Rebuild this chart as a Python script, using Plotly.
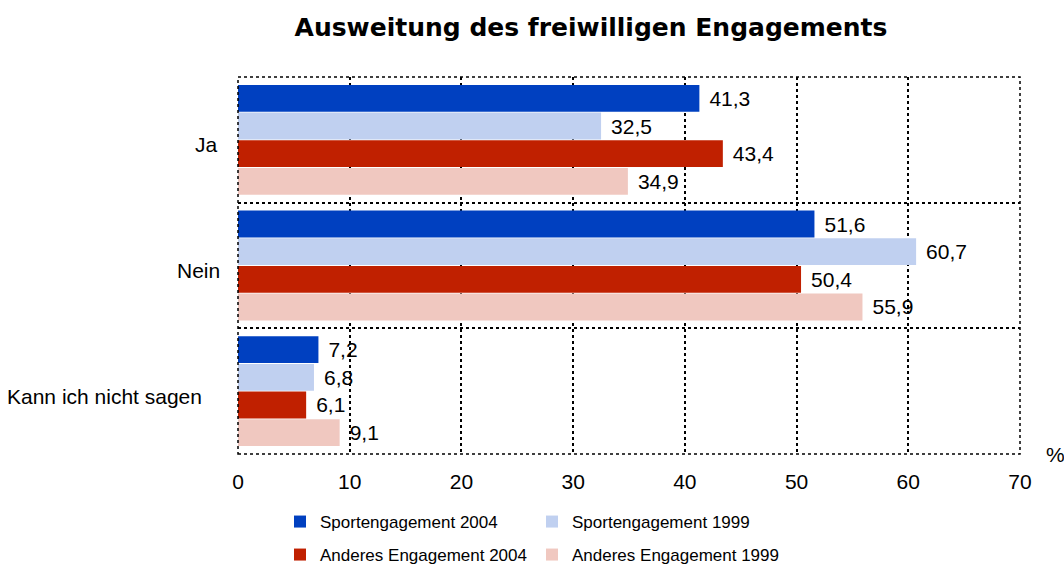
import plotly.graph_objects as go

categories = ["Ja", "Nein", "Kann ich nicht sagen"]
series_names = ["Sportengagement 2004", "Sportengagement 1999",
                "Anderes Engagement 2004", "Anderes Engagement 1999"]
sport_2004 = [41.3, 51.6, 7.2]
sport_1999 = [32.5, 60.7, 6.8]
anderes_2004 = [43.4, 50.4, 6.1]
anderes_1999 = [34.9, 55.9, 9.1]
x_ticks = [0, 10, 20, 30, 40, 50, 60, 70]

series_values = [sport_2004, sport_1999, anderes_2004, anderes_1999]
colors = ["#0040C0", "#C0D0F0", "#C02000", "#F0C8C0"]
legends = ["legend", "legend", "legend2", "legend2"]

FONT = "Liberation Sans, Arial, sans-serif"

fig = go.Figure()
for name, vals, col, lg in zip(series_names, series_values, colors, legends):
    fig.add_trace(go.Bar(
        y=categories, x=vals, name=name, orientation="h",
        marker=dict(color=col, line=dict(width=0)),
        text=["\u2004" + f"{v:.1f}".replace(".", ",") for v in vals],
        textposition="outside", constraintext="none", cliponaxis=False,
        textfont=dict(family=FONT, size=21, color="#000000"),
        legend=lg, hoverinfo="x+name",
    ))

grid = dict(showgrid=True, gridcolor="#000000", gridwidth=1.5, griddash="dot")

fig.update_layout(
    width=1064, height=568,
    margin=dict(l=238, r=44, t=77, b=114, autoexpand=False),
    paper_bgcolor="white", plot_bgcolor="white",
    barmode="group", bargap=0.12, bargroupgap=0.03,
    font=dict(family=FONT, size=21, color="#000000"),
    title=dict(text="<b>Ausweitung des freiwilligen Engagements</b>",
               font=dict(family="DejaVu Sans, sans-serif", size=25, color="#000000"),
               x=591 / 1064, xref="container", xanchor="center",
               y=1 - 27 / 568, yref="container", yanchor="middle"),
    xaxis=dict(range=[0, 70], tickvals=x_ticks, ticktext=[str(t) for t in x_ticks],
               zeroline=False, showline=False, ticks="", ticklabelstandoff=13,
               tickfont=dict(size=21), **grid),
    yaxis=dict(type="category", autorange="reversed", tickson="boundaries",
               showticklabels=False, ticks="", showline=False, **grid),
    legend=dict(orientation="h", x=(280 - 238) / 782, xanchor="left",
                y=(454 - 522) / 377, yanchor="middle", entrywidth=207,
                font=dict(size=17), bgcolor="rgba(0,0,0,0)", traceorder="normal"),
    legend2=dict(orientation="h", x=(280 - 238) / 782, xanchor="left",
                 y=(454 - 555) / 377, yanchor="middle", entrywidth=207,
                 font=dict(size=17), bgcolor="rgba(0,0,0,0)", traceorder="normal"),
    showlegend=True,
)

# plot-area border
fig.add_shape(type="rect", xref="paper", yref="paper", x0=0, x1=1, y0=0, y1=1,
              line=dict(color="#000000", width=1.5, dash="dot"), layer="above")

# category labels
label_shift = {"Ja": -18, "Nein": -16, "Kann ich nicht sagen": -34}
for c in categories:
    fig.add_annotation(text=c, xref="paper", x=0, xanchor="right", xshift=label_shift[c],
                       yref="y", y=c, yanchor="middle", yshift=-5, showarrow=False,
                       font=dict(size=21))

fig.add_annotation(text="%", xref="paper", x=1, xanchor="left", xshift=24,
                   yref="paper", y=0, yanchor="middle", showarrow=False, font=dict(size=21))

fig.write_html("out.html", config={"displayModeBar": False},
               post_script="document.body.style.margin='0';document.body.style.padding='0';")
